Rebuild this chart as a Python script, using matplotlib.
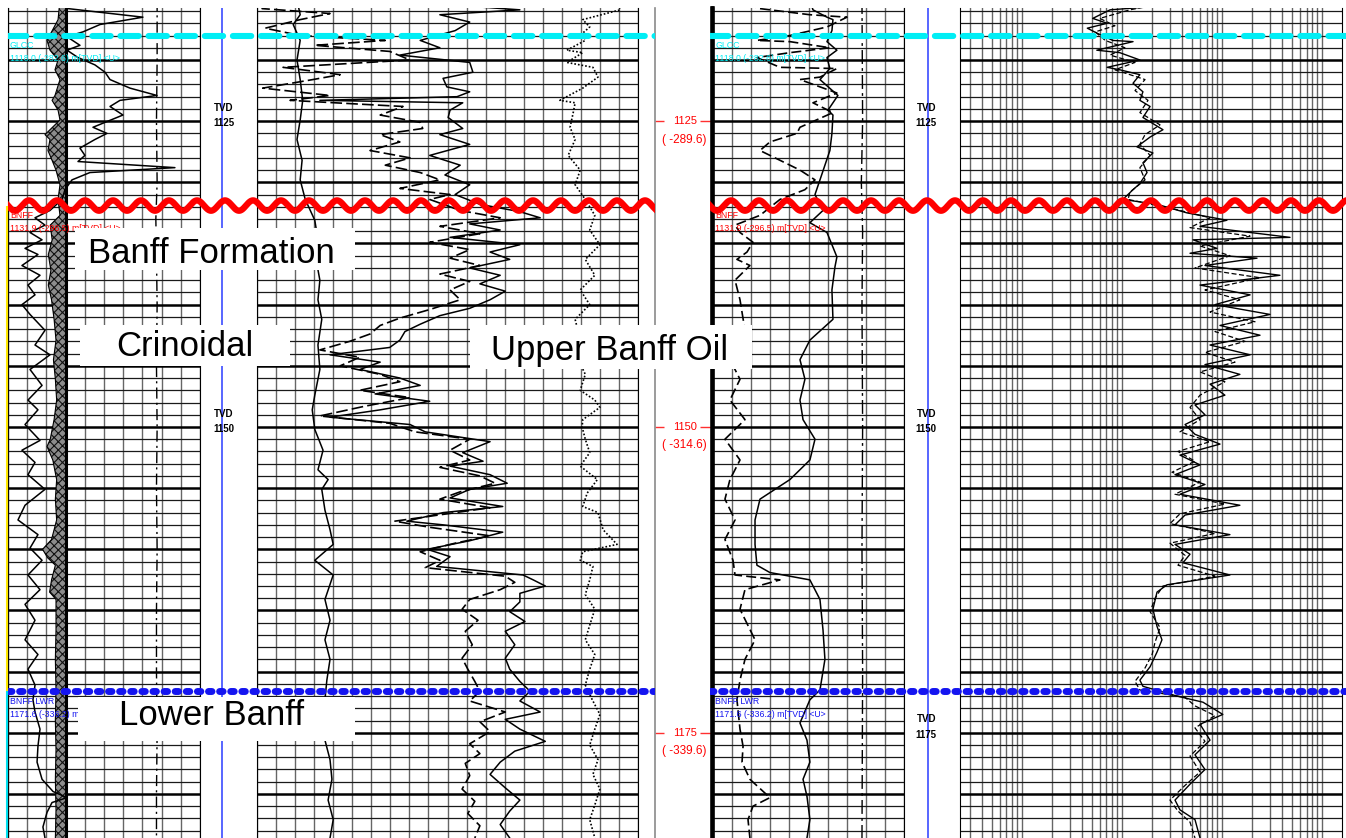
import numpy as np
import matplotlib
matplotlib.use('Agg')
import matplotlib.pyplot as plt
from matplotlib.ticker import MultipleLocator
from matplotlib.patches import Rectangle

plt.rcParams['font.family'] = ['Liberation Sans', 'DejaVu Sans']
plt.rcParams['hatch.linewidth'] = 0.8

W, H = 1346, 838          # output size, pixels
TOP = 8                   # blank strip above the tracks
DEPTH_TOP, DEPTH_BASE = 1115.75, 1183.6

# formation tops
tops_name = ['GLCC', 'BNFF', 'BNFF LWR']
tops_depth = [1118.0, 1131.9, 1171.6]
tops_subsea = [-282.6, -296.5, -336.2]

# depth track
depth_marks = [1125, 1150, 1175]
depth_subsea = [-289.6, -314.6, -339.6]

zone_labels = ['Banff Formation', 'Crinoidal', 'Upper Banff Oil', 'Lower Banff']

# ---- left well, track 1 (API 0-150): (depth, value) ----
sp_base = 45
gr_l = [(1115.1, 48.4), (1115.8, 46.9), (1116.5, 105.4), (1117.1, 71.9), (1117.7, 58.6), (1118.1, 46.1),
        (1118.8, 56.2), (1119.2, 46.1), (1119.8, 54.7), (1120.4, 67.9), (1121.0, 75.8), (1121.6, 79.7),
        (1122.3, 95.3), (1122.9, 116.4), (1123.3, 87.5), (1123.8, 79.7), (1124.5, 89.8), (1125.5, 66.4),
        (1126.0, 77.3), (1126.5, 67.9), (1127.2, 56.2), (1127.8, 60.1), (1128.3, 54.7), (1128.8, 130.4),
        (1129.2, 64.0), (1129.8, 50.0), (1130.6, 44.5), (1131.4, 42.2), (1132.3, 32.8), (1132.9, 21.1),
        (1133.5, 28.9), (1134.1, 17.2), (1134.7, 26.6), (1135.4, 13.3), (1135.9, 23.4), (1136.8, 10.9),
        (1137.6, 25.0), (1138.4, 15.6), (1139.2, 21.1), (1140.0, 10.9), (1140.8, 17.2), (1142.1, 28.9),
        (1143.3, 21.1), (1144.1, 32.8), (1145.3, 17.2), (1146.6, 26.6), (1147.8, 15.6), (1148.6, 23.4),
        (1149.8, 13.3), (1151.1, 25.0), (1151.9, 10.9), (1152.9, 21.1), (1153.9, 15.6), (1155.1, 28.9),
        (1156.4, 13.3), (1157.6, 7.8), (1158.8, 23.4), (1159.9, 17.2), (1160.9, 26.6), (1162.1, 15.6),
        (1163.3, 25.0), (1164.5, 13.3), (1165.8, 21.1), (1167.4, 13.3), (1168.6, 23.4), (1169.8, 15.6),
        (1171.1, 21.1), (1172.3, 19.5), (1173.3, 21.1), (1174.7, 25.0), (1176.1, 23.4), (1177.4, 22.7),
        (1178.8, 26.6), (1179.8, 35.2), (1180.3, 46.1), (1180.7, 34.4), (1181.5, 30.5), (1182.7, 27.3),
        (1183.6, 28.9)]
sp_l = [(1115.1, 40.6), (1116.7, 39.1), (1118.4, 30.5), (1119.2, 32.8), (1120.0, 39.1), (1120.8, 36.7),
        (1121.6, 40.6), (1122.9, 36.7), (1123.3, 34.4), (1124.1, 39.1), (1124.9, 40.6), (1125.3, 36.7),
        (1126.1, 28.9), (1126.5, 32.8), (1127.4, 31.2), (1128.2, 34.4), (1129.0, 37.5), (1130.2, 40.6),
        (1131.4, 39.1), (1132.7, 40.6), (1133.5, 33.0), (1134.7, 34.5), (1135.9, 31.5), (1137.2, 33.5),
        (1138.4, 31.5), (1139.6, 34.0), (1141.2, 36.0), (1142.9, 37.5), (1144.5, 35.5), (1146.1, 37.0),
        (1147.8, 38.0), (1149.4, 36.0), (1151.0, 33.0), (1151.6, 30.5), (1152.7, 35.0), (1154.3, 38.0),
        (1155.9, 37.0), (1157.6, 38.0), (1159.2, 34.0), (1160.0, 27.0), (1160.7, 31.0), (1161.3, 37.0),
        (1162.5, 34.0), (1163.5, 32.5), (1164.1, 37.5), (1166.6, 37.5), (1169.0, 37.0), (1171.5, 37.5),
        (1174.0, 37.0), (1176.4, 37.5), (1178.8, 37.0), (1181.3, 37.5), (1183.6, 37.0)]
bs_l = [(1115.1, 116.5), (1120, 116.5), (1125, 116), (1130, 116.5), (1133, 115.5), (1136, 116),
        (1140, 116.5), (1145, 116), (1150, 116.5), (1155, 116), (1160, 116.5), (1165, 116),
        (1170, 116), (1175, 116.5), (1180, 116), (1183.6, 116)]

# ---- left well, track 2 (porosity %, 45 -> -15) ----
cal_l = [(1115.1, 38.7), (1116.3, 38.2), (1117.1, 39.3), (1118.4, 38.2), (1120.0, 38.7), (1121.6, 38.2),
         (1123.3, 37.8), (1124.9, 38.2), (1126.5, 38.7), (1128.2, 37.9), (1129.8, 38.2), (1131.4, 37.4),
         (1133.1, 35.9), (1134.7, 35.4), (1136.3, 35.7), (1138.0, 35.1), (1139.6, 35.4), (1141.2, 34.8),
         (1143.3, 35.4), (1145.3, 35.1), (1147.4, 35.9), (1148.6, 36.3), (1150.2, 35.9), (1151.9, 34.6),
         (1153.5, 35.4), (1154.3, 33.8), (1155.1, 34.8), (1156.8, 34.3), (1158.4, 33.5), (1159.6, 33.0),
         (1160.9, 35.9), (1162.1, 33.0), (1164.1, 34.3), (1165.8, 33.5), (1167.4, 34.3), (1169.0, 33.5),
         (1170.7, 34.0), (1172.3, 34.3), (1173.9, 33.8), (1175.6, 34.3), (1177.2, 33.5), (1178.8, 33.2),
         (1180.5, 33.8), (1182.1, 33.0), (1183.6, 33.5)]
nphi_l = [(1115.1, 41.4), (1115.8, 44.2), (1116.2, 33.5), (1116.7, 38.2), (1117.4, 43.7), (1118.0, 38.2),
          (1118.4, 24.8), (1118.8, 35.9), (1119.3, 24.1), (1120.0, 20.9), (1120.6, 40.9), (1121.2, 31.9),
          (1121.6, 36.2), (1122.3, 44.1), (1122.9, 33.5), (1123.3, 39.8), (1123.8, 22.0), (1124.5, 25.6),
          (1125.1, 19.3), (1125.6, 18.9), (1126.1, 25.6), (1126.7, 22.5), (1127.4, 27.2), (1128.0, 20.9),
          (1128.6, 24.8), (1129.2, 19.3), (1129.8, 16.2), (1130.5, 22.5), (1131.0, 14.6), (1131.4, 17.8),
          (1132.3, 13.0), (1132.9, 6.7), (1133.6, 16.2), (1134.2, 9.9), (1134.9, 17.8), (1135.5, 11.5),
          (1136.2, 14.6), (1136.8, 9.9), (1137.5, 16.2), (1138.1, 11.5), (1138.8, 14.6), (1139.6, 13.0),
          (1140.4, 17.8), (1141.1, 22.5), (1141.7, 25.6), (1142.4, 27.2), (1143.0, 30.4), (1143.7, 35.1),
          (1144.3, 28.8), (1145.0, 31.9), (1145.7, 25.6), (1146.3, 22.5), (1147.0, 28.8), (1147.6, 20.9),
          (1148.3, 28.0), (1149.1, 35.1), (1149.7, 24.1), (1150.4, 20.1), (1151.0, 11.5), (1151.9, 14.6),
          (1152.7, 11.5), (1153.3, 16.2), (1154.0, 9.9), (1154.6, 7.5), (1155.3, 13.0), (1155.9, 16.2),
          (1156.6, 8.3), (1157.3, 17.8), (1157.7, 23.3), (1158.2, 17.8), (1158.9, 8.3), (1159.5, 13.8),
          (1160.2, 19.3), (1160.9, 16.2), (1161.5, 18.5), (1162.2, 5.9), (1162.7, 4.4), (1163.3, 6.7),
          (1164.1, 11.5), (1164.9, 12.7), (1165.8, 10.2), (1166.7, 12.2), (1167.8, 11.1), (1168.9, 12.7),
          (1169.8, 11.8), (1170.8, 10.7), (1171.6, 9.9), (1172.4, 11.5), (1173.3, 5.9), (1174.1, 9.9),
          (1174.9, 8.3), (1175.9, 11.5), (1176.7, 9.9), (1177.5, 12.2), (1178.5, 11.5), (1179.6, 12.7),
          (1180.6, 10.7), (1181.6, 11.8), (1182.6, 9.9), (1183.6, 10.7)]
dphi_l = [(1115.1, -9.0), (1115.5, 14.6), (1115.9, 3.6), (1116.3, 16.2), (1116.9, 11.5), (1117.6, 13.8),
          (1118.4, 19.3), (1119.0, 16.2), (1119.6, 22.5), (1120.2, 11.5), (1121.0, 11.0), (1121.5, 15.7),
          (1122.2, 15.1), (1122.6, 11.5), (1123.0, 13.5), (1123.3, 35.1), (1123.5, 12.6), (1124.1, 14.6),
          (1124.7, 14.9), (1125.6, 12.6), (1126.1, 16.2), (1126.9, 11.5), (1127.8, 17.8), (1128.6, 13.0),
          (1129.4, 15.4), (1130.2, 11.5), (1131.0, 13.8), (1131.8, 9.9), (1132.4, 3.6), (1132.9, 0.4),
          (1133.4, 11.5), (1133.9, 6.7), (1134.5, 14.6), (1135.1, 3.6), (1135.7, 8.3), (1136.3, 5.2),
          (1137.0, 11.5), (1137.6, 6.7), (1138.3, 9.9), (1138.9, 5.9), (1139.6, 8.3), (1140.3, 11.5),
          (1140.9, 16.2), (1141.6, 19.3), (1142.2, 21.7), (1142.9, 22.5), (1143.5, 24.1), (1144.1, 33.5),
          (1144.7, 25.6), (1145.3, 28.8), (1146.0, 22.5), (1146.6, 19.3), (1147.3, 26.4), (1147.9, 17.8),
          (1148.6, 25.6), (1149.2, 33.5), (1149.8, 20.9), (1150.4, 18.5), (1151.2, 8.3), (1152.1, 12.6),
          (1152.8, 9.4), (1153.2, 14.6), (1153.9, 8.3), (1154.6, 5.6), (1155.1, 11.5), (1155.8, 14.6),
          (1156.5, 6.3), (1157.0, 15.7), (1157.7, 21.4), (1158.0, 15.7), (1158.6, 6.3), (1159.3, 11.5),
          (1160.0, 18.2), (1160.6, 14.6), (1161.4, 16.7), (1162.1, 3.1), (1162.5, 1.5), (1163.0, -0.4),
          (1163.6, 3.6), (1164.3, 3.6), (1165.1, 5.2), (1165.9, 2.8), (1166.7, 5.9), (1167.8, 4.4),
          (1168.9, 5.9), (1169.8, 5.2), (1170.8, 3.6), (1171.6, 2.0), (1172.4, 3.6), (1173.3, 0.4),
          (1173.9, 5.9), (1174.7, 3.6), (1175.7, -0.4), (1176.5, 4.4), (1177.4, 6.7), (1178.4, 8.3),
          (1179.5, 5.9), (1180.5, 3.6), (1181.4, 5.2), (1182.5, 6.7), (1183.6, 5.2)]
pef_l = [(1115.1, -11.7), (1115.9, -12.2), (1116.7, -6.3), (1117.3, -7.4), (1117.8, -6.3), (1118.4, -6.7),
         (1119.2, -3.8), (1119.4, -6.3), (1120.2, -3.8), (1120.6, -7.9), (1121.4, -8.7), (1122.3, -6.3),
         (1123.3, -2.7), (1123.5, -5.1), (1124.3, -4.8), (1125.5, -4.3), (1126.5, -5.1), (1127.8, -4.0),
         (1129.0, -5.9), (1130.2, -5.1), (1131.4, -6.7), (1132.7, -8.2), (1133.9, -7.4), (1135.1, -9.0),
         (1136.3, -6.7), (1137.6, -8.2), (1138.8, -5.9), (1140.0, -7.4), (1141.2, -5.1), (1142.9, -5.9),
         (1144.5, -5.6), (1145.7, -6.7), (1147.0, -5.9), (1147.8, -8.2), (1148.4, -9.0), (1149.4, -6.3),
         (1150.0, -6.2), (1151.0, -6.7), (1152.1, -7.4), (1153.2, -5.9), (1154.3, -8.6), (1155.4, -7.0),
         (1156.5, -6.3), (1157.0, -8.7), (1158.4, -9.5), (1159.6, -11.7), (1160.2, -6.3), (1160.9, -5.9),
         (1161.4, -7.9), (1162.5, -7.4), (1163.7, -6.7), (1164.9, -8.2), (1166.2, -7.4), (1167.4, -6.7),
         (1168.6, -8.2), (1169.8, -7.4), (1171.1, -6.7), (1172.3, -7.8), (1173.5, -9.0), (1174.7, -8.2),
         (1176.0, -7.4), (1177.2, -8.7), (1178.4, -7.9), (1179.6, -9.0), (1180.9, -8.2), (1182.1, -7.4),
         (1183.6, -8.2)]

# ---- right well, track 1 (API 0-150) ----
gr_r = [(1115.1, 76.1), (1115.9, 78.5), (1116.5, 89.5), (1116.7, 94.2), (1117.6, 93.4), (1118.5, 89.5),
        (1119.2, 97.3), (1119.8, 89.5), (1120.7, 91.8), (1121.6, 84.0), (1122.9, 98.1), (1124.1, 90.3),
        (1124.5, 94.2), (1126.0, 93.4), (1127.4, 91.8), (1128.6, 87.9), (1129.8, 84.0), (1131.0, 80.1),
        (1132.3, 86.4), (1133.3, 76.1), (1134.1, 89.5), (1135.3, 94.2), (1136.1, 97.3), (1136.9, 95.8),
        (1138.8, 93.4), (1141.2, 94.2), (1142.9, 76.1), (1144.5, 68.3), (1146.1, 72.2), (1147.8, 68.3),
        (1149.4, 70.7), (1151.0, 80.1), (1152.7, 76.1), (1154.3, 60.4), (1155.9, 36.9), (1157.6, 33.0),
        (1159.6, 33.0), (1161.3, 34.5), (1161.9, 44.7), (1162.5, 76.1), (1164.1, 84.0), (1166.6, 86.4),
        (1169.0, 87.9), (1171.5, 84.0), (1172.3, 76.1), (1174.2, 68.3), (1175.6, 73.8), (1177.4, 76.1),
        (1178.8, 70.7), (1180.2, 73.8), (1182.1, 76.1), (1183.6, 73.8)]
cgr_r = [(1115.1, 15.7), (1115.8, 36.9), (1116.3, 76.1), (1116.5, 105.2), (1117.3, 89.5), (1118.0, 60.4),
         (1118.4, 34.5), (1118.5, 60.4), (1119.0, 91.8), (1119.4, 60.4), (1119.8, 34.5), (1120.6, 52.6),
         (1120.7, 97.3), (1121.4, 84.0), (1121.6, 68.3), (1122.7, 97.3), (1123.5, 78.5), (1124.3, 94.2),
         (1125.5, 68.3), (1126.0, 65.9), (1126.7, 44.7), (1127.4, 36.9), (1128.2, 52.6), (1129.0, 68.3),
         (1129.8, 80.1), (1130.6, 72.2), (1131.4, 52.6), (1132.7, 36.9), (1133.5, 17.3), (1134.1, 21.2),
         (1134.9, 31.4), (1135.7, 26.7), (1136.3, 18.8), (1136.8, 29.0), (1138.0, 17.3), (1139.6, 21.2),
         (1142.1, 25.1), (1144.5, 13.3), (1146.1, 21.2), (1147.8, 13.3), (1149.4, 25.1), (1151.0, 9.4),
         (1152.7, 21.2), (1154.3, 13.3), (1155.9, 9.4), (1157.6, 17.3), (1159.2, 9.4), (1160.9, 15.7),
         (1162.1, 17.3), (1162.5, 52.6), (1163.3, 25.1), (1164.9, 21.2), (1167.4, 33.0), (1169.0, 25.1),
         (1170.7, 21.2), (1172.3, 18.8), (1174.7, 21.2), (1176.1, 23.6), (1177.4, 22.8), (1178.8, 29.0),
         (1180.3, 44.7), (1181.0, 31.4), (1182.1, 27.5), (1183.6, 29.0)]
bs_r = [(1115.1, 117), (1125, 117.5), (1130, 116.5), (1134, 117.5), (1140, 117), (1150, 117.5),
        (1160, 117), (1170, 117.5), (1183.6, 117)]

# ---- right well, track 2 (resistivity, ohm.m, log) ----
rd_r = [(1115.1, 151), (1115.9, 7.6), (1116.6, 5.1), (1117.0, 7.1), (1117.4, 4.5), (1117.8, 5.6),
        (1118.4, 8.1), (1118.5, 12.9), (1119.2, 5.6), (1119.4, 9.5), (1120.0, 15.1), (1120.6, 7.1),
        (1120.8, 9.5), (1121.2, 15.1), (1121.9, 12.9), (1122.6, 16.2), (1123.3, 15.1), (1123.8, 19.1),
        (1124.7, 16.2), (1125.7, 25.7), (1126.3, 19.1), (1127.1, 14.1), (1127.6, 20.4), (1128.4, 16.2),
        (1129.2, 17.8), (1130.1, 15.1), (1130.6, 12.9), (1131.4, 10.2), (1131.8, 22.4), (1132.5, 44.7),
        (1133.1, 112), (1133.6, 60.3), (1134.5, 479), (1134.7, 51.3), (1135.4, 89.1), (1135.8, 47.9),
        (1136.2, 224), (1136.8, 67.6), (1137.6, 380), (1138.4, 60.3), (1139.2, 191), (1140.0, 85.1),
        (1140.8, 302), (1141.7, 95.5), (1142.5, 240), (1143.3, 75.9), (1144.1, 191), (1144.9, 67.6),
        (1145.7, 151), (1146.5, 75.9), (1147.4, 107), (1148.2, 53.7), (1149.0, 67.6), (1149.8, 42.7),
        (1150.6, 53.7), (1151.4, 95.5), (1152.3, 38.0), (1153.1, 60.3), (1153.9, 33.9), (1154.7, 67.6),
        (1155.5, 38.0), (1156.4, 151), (1157.2, 42.7), (1158.0, 33.9), (1158.8, 120), (1159.6, 33.9),
        (1160.4, 47.9), (1161.1, 40.7), (1162.1, 120), (1162.9, 28.2), (1163.5, 22.4), (1164.9, 20.4),
        (1166.3, 22.4), (1167.4, 25.1), (1168.4, 22.4), (1169.6, 19.1), (1170.7, 15.1), (1171.2, 16.2),
        (1172.0, 35.5), (1172.5, 64.6), (1173.5, 102), (1174.3, 60.3), (1175.6, 75.9), (1176.8, 53.7),
        (1178.0, 67.6), (1179.2, 47.9), (1180.5, 33.9), (1181.3, 38.0), (1182.1, 53.7), (1183.6, 60.3)]
rs_r = [(1115.1, 38), (1115.9, 12), (1116.6, 6.0), (1117.2, 8.5), (1117.7, 5.4), (1118.4, 6.8),
        (1119.0, 10.7), (1119.6, 7.6), (1120.2, 13.5), (1120.8, 8.5), (1121.6, 17), (1122.5, 13.5),
        (1123.3, 18.2), (1124.3, 15.1), (1125.3, 24), (1126.1, 17), (1126.9, 15.1), (1127.8, 19.1),
        (1128.8, 15.1), (1129.8, 17), (1130.8, 12), (1131.4, 11.5), (1132.1, 30.2), (1132.9, 75.9),
        (1133.7, 47.9), (1134.4, 191), (1135.2, 60.3), (1136.0, 120), (1137.0, 53.7), (1137.8, 240),
        (1138.8, 67.6), (1139.6, 151), (1140.6, 75.9), (1141.4, 214), (1142.2, 85.1), (1143.0, 170),
        (1143.9, 67.6), (1144.7, 135), (1145.5, 60.3), (1146.3, 107), (1147.4, 60.3), (1148.4, 47.9),
        (1149.4, 60.3), (1150.4, 38), (1151.2, 75.9), (1152.0, 36.3), (1152.8, 53.7), (1153.7, 31.6),
        (1154.5, 60.3), (1155.5, 33.9), (1156.3, 107), (1157.1, 38), (1157.9, 30.2), (1158.7, 85.1),
        (1159.5, 30.2), (1160.5, 42.7), (1161.3, 36.3), (1162.2, 85.1), (1163.0, 25.7), (1164.0, 21.4),
        (1165.1, 19.1), (1166.4, 24), (1167.6, 21.4), (1168.6, 20), (1169.7, 17), (1170.8, 13.5),
        (1171.5, 15.1), (1172.1, 42.7), (1172.8, 53.7), (1173.6, 85.1), (1174.6, 53.7), (1175.7, 67.6),
        (1176.9, 47.9), (1178.2, 60.3), (1179.3, 42.7), (1180.5, 30.2), (1181.4, 36.3), (1182.3, 47.9),
        (1183.6, 53.7)]

fig = plt.figure(figsize=(W / 100, H / 100), dpi=100)


def px_axes(x0, x1, z=0):
    return fig.add_axes([x0 / W, 0, (x1 - x0) / W, (H - TOP) / H], zorder=z)


def track(x0, x1, xlim, step=None, log=False):
    ax = px_axes(x0, x1)
    if log:
        ax.set_xscale('log')
    ax.set_xlim(*xlim)
    ax.set_ylim(DEPTH_BASE, DEPTH_TOP)
    if step:
        ax.xaxis.set_major_locator(MultipleLocator(step))
    ax.yaxis.set_major_locator(MultipleLocator(5))
    ax.yaxis.set_minor_locator(MultipleLocator(1))
    ax.grid(axis='x', which='both', color='#666666', lw=1.0)
    ax.grid(axis='y', which='minor', color='#1a1a1a', lw=0.9)
    ax.grid(axis='y', which='major', color='black', lw=1.8)
    ax.set_axisbelow(True)
    ax.tick_params(which='both', length=0, labelbottom=False, labelleft=False)
    ax.spines[['top', 'bottom']].set_visible(False)
    return ax


def curve(ax, data, **kw):
    d, v = np.array(data, dtype=float).T
    ax.plot(v, d, color='black', **kw)
    return d, v


# left well
ax1 = track(8, 200, (0, 150), 15)
d, v = curve(ax1, sp_l, lw=0.8)
ax1.fill_betweenx(d, v, sp_base, facecolor='#8c8c8c', edgecolor='#111111', hatch='xxxx', lw=0)
ax1.axvline(sp_base, color='black', lw=2.2)
curve(ax1, bs_l, lw=1.0, ls=(0, (8, 3, 1.5, 3)))
curve(ax1, gr_l, lw=1.1)

ax2 = track(257, 638, (45, -15), 3)
curve(ax2, cal_l, lw=1.1)
curve(ax2, pef_l, lw=1.2, ls=(0, (1, 1.2)))
curve(ax2, nphi_l, lw=1.2, ls=(0, (7, 2.5)))
curve(ax2, dphi_l, lw=1.1)

# right well
ax3 = track(713, 904, (0, 150), 15)
ax3.spines['left'].set_linewidth(2.6)
curve(ax3, bs_r, lw=1.0, ls=(0, (10, 3, 2, 3)))
curve(ax3, cgr_r, lw=1.2, ls=(0, (6, 2.5)))
curve(ax3, gr_r, lw=1.1)

ax4 = track(960, 1342, (0.24, 1585), log=True)
curve(ax4, rs_r, lw=0.9, ls=(0, (4, 2)))
curve(ax4, rd_r, lw=1.0)

# depth column between the wells
axd = px_axes(655, 712, 1)
axd.set_xlim(0, 1)
axd.set_ylim(DEPTH_BASE, DEPTH_TOP)
axd.set_xticks([])
axd.set_yticks([])
axd.spines[['top', 'bottom']].set_visible(False)
axd.spines['left'].set_color('#8a8a8a')
axd.spines['left'].set_linewidth(1.2)
axd.spines['right'].set_linewidth(2.6)
for dep, ss in zip(depth_marks, depth_subsea):
    axd.hlines(dep, 0, 0.15, color='#ff3030', lw=1)
    axd.hlines(dep, 0.79, 1, color='#ff3030', lw=1)
    axd.text(0.52, dep, str(dep), color='red', fontsize=8, ha='center', va='center')
    axd.text(0.52, dep + 1.5, f'( {ss:.1f})', color='red', fontsize=8.5, ha='center', va='center')

# overlays with tops, depth labels and zone names
top_colors = ['#00eef5', '#ff0000', '#1414f0']
# (x0, x1, blue line, TVD label x, top label x, zorder, labelled depths)
panels = [(8, 655, 0.331, 0.334, 0.003, 6, depth_marks[:2]),
          (710, 1346, 0.343, 0.340, 0.008, 5, depth_marks)]
overlays = []
for x0, x1, xline, xtvd, xtxt, z, marks in panels:
    ov = px_axes(x0, x1, z)
    ov.set_xlim(0, 1)
    ov.set_ylim(DEPTH_BASE, DEPTH_TOP)
    ov.axis('off')
    ov.axvline(xline, color='#2a3cff', lw=1.1)
    for dep in marks:
        ov.text(xtvd, dep - 1.1, 'TVD', fontsize=7, fontweight='bold', ha='center', va='center')
        ov.text(xtvd, dep + 0.15, str(dep), fontsize=7, fontweight='bold', ha='center', va='center')

    xs = np.linspace(0, 1, 3000)
    ov.plot([0, 1], [tops_depth[0]] * 2, color=top_colors[0], lw=4.4,
            ls=(0, (3, 1.6)), dash_capstyle='round')
    ov.plot(xs, tops_depth[1] + 0.42 * np.sin(2 * np.pi * xs * (x1 - x0) / 28),
            color=top_colors[1], lw=4.6)
    ov.plot([0, 1], [tops_depth[2]] * 2, color=top_colors[2], lw=5,
            ls=(0, (0.5, 1.1)), dash_capstyle='round')
    for name, dep, ss, col in zip(tops_name, tops_depth, tops_subsea, top_colors):
        ov.text(xtxt, dep + 0.85, name, color=col, fontsize=6.3, va='center')
        ov.text(xtxt, dep + 1.9, f'{dep:.1f} ({ss:.1f}) m[TVD] <U>', color=col, fontsize=6.3, va='center')
    overlays.append(ov)

ovl = overlays[0]
ovl.vlines(-0.0015, tops_depth[1], tops_depth[2], color='#ffe800', lw=1.5, clip_on=False)
ovl.vlines(-0.0015, tops_depth[2], DEPTH_BASE, color='#00e0f0', lw=1.5, clip_on=False)

zone_boxes = [(0.104, 0.536, 1133.7, 1137.2), (0.111, 0.436, 1141.7, 1145.0),
              (0.714, 1.150, 1141.7, 1145.3), (0.108, 0.536, 1172.1, 1175.7)]
zone_text_xy = [(0.315, 1136.6), (0.274, 1144.2), (0.930, 1144.5), (0.315, 1174.4)]
for lab, (bx0, bx1, bd0, bd1), (tx, td) in zip(zone_labels, zone_boxes, zone_text_xy):
    ovl.add_patch(Rectangle((bx0, bd0), bx1 - bx0, bd1 - bd0, facecolor='white',
                            edgecolor='none', clip_on=False, zorder=10))
    ovl.text(tx, td, lab, fontsize=25, ha='center', va='baseline', zorder=11, clip_on=False)

fig.savefig('out.png', dpi=100)
